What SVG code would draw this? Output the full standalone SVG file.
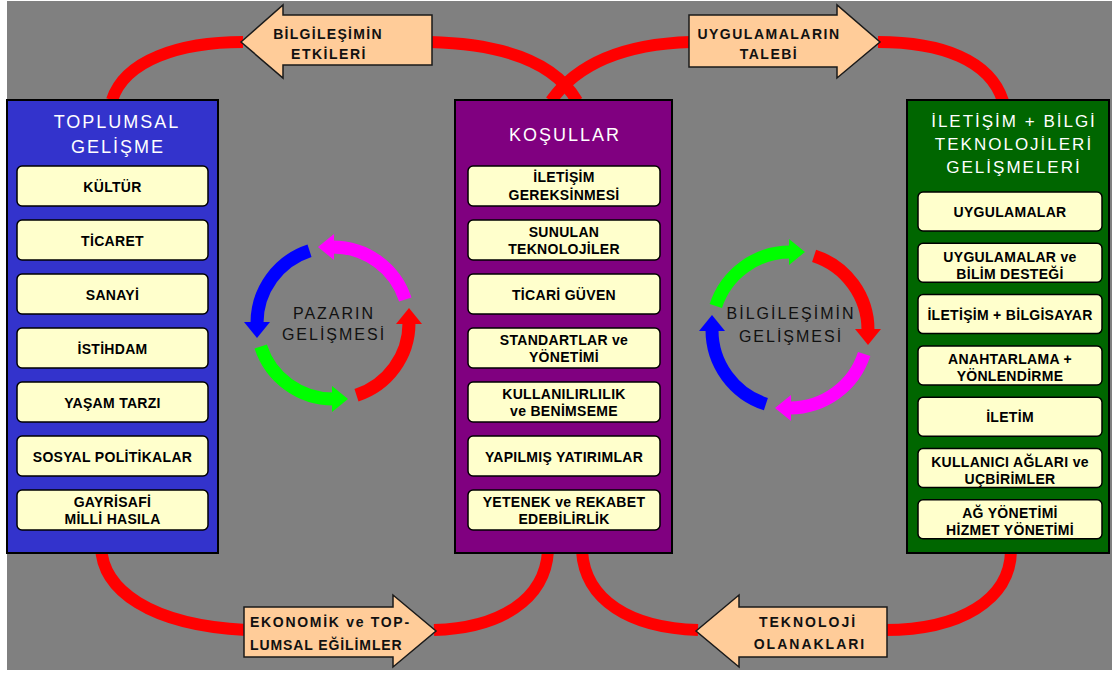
<svg xmlns="http://www.w3.org/2000/svg" width="1112" height="673" viewBox="0 0 1112 673">
<style>
.panel{stroke:#000;stroke-width:2}
.box{fill:#FFFFCC;stroke:#000;stroke-width:1.5}
.bt{font-family:"Liberation Sans",Arial,sans-serif;font-weight:bold;font-size:14px;letter-spacing:0.3px;text-anchor:middle;fill:#000}
.tt{font-family:"Liberation Sans",Arial,sans-serif;font-size:18px;letter-spacing:2px;text-anchor:middle;fill:#fff}
.arrow{fill:#FFCC99;stroke:#1a1a1a;stroke-width:1.5}
.at{font-family:"Liberation Sans",Arial,sans-serif;font-weight:bold;font-size:14px;fill:#111}
.ct{font-family:"Liberation Sans",Arial,sans-serif;font-size:16px;letter-spacing:2px;text-anchor:middle;fill:#111}
.conn{fill:none;stroke:#FF0000;stroke-width:12}
.ring{fill:none;stroke-width:13}
</style>
<defs>
<marker id="mr" markerUnits="userSpaceOnUse" markerWidth="16" markerHeight="26" viewBox="0 0 16 26" refX="1" refY="13" orient="auto"><path d="M0,0 L16,13 L0,26 Z" fill="#FF0000"/></marker>
<marker id="mg" markerUnits="userSpaceOnUse" markerWidth="16" markerHeight="26" viewBox="0 0 16 26" refX="1" refY="13" orient="auto"><path d="M0,0 L16,13 L0,26 Z" fill="#00FF00"/></marker>
<marker id="mb" markerUnits="userSpaceOnUse" markerWidth="16" markerHeight="26" viewBox="0 0 16 26" refX="1" refY="13" orient="auto"><path d="M0,0 L16,13 L0,26 Z" fill="#0000FF"/></marker>
<marker id="mm" markerUnits="userSpaceOnUse" markerWidth="16" markerHeight="26" viewBox="0 0 16 26" refX="1" refY="13" orient="auto"><path d="M0,0 L16,13 L0,26 Z" fill="#FF00FF"/></marker>
</defs>
<rect x="0" y="0" width="1112" height="673" fill="#fff"/>
<rect x="7" y="1" width="1105" height="669" fill="#808080"/>

<g id="connectors">
<path class="conn" d="M112,100 C125,60 180,42 243,42"/>
<path class="conn" d="M430,42 Q545,45 577,101"/>
<path class="conn" d="M691,42 Q590,45 551,101"/>
<path class="conn" d="M878,42 C941,42 990,60 1003,101"/>
<path class="conn" d="M101,546 C102,590 150,625 246,630"/>
<path class="conn" d="M434,630 C500,628 545,600 548,551"/>
<path class="conn" d="M582,551 C585,600 630,628 698,630"/>
<path class="conn" d="M885,630 C960,630 1010,600 1011,551"/>
</g>

<g id="toplumsal">
<rect class="panel" x="7" y="100" width="211" height="453" fill="#3333CC"/>
<text class="tt" x="117" y="128">TOPLUMSAL</text>
<text class="tt" x="118" y="153">GELİŞME</text>
<rect class="box" x="17" y="166" width="191" height="40" rx="5"/><text class="bt" x="112.5" y="191.5">KÜLTÜR</text>
<rect class="box" x="17" y="220" width="191" height="40" rx="5"/><text class="bt" x="112.5" y="245.5">TİCARET</text>
<rect class="box" x="17" y="274" width="191" height="40" rx="5"/><text class="bt" x="112.5" y="299.5">SANAYİ</text>
<rect class="box" x="17" y="328" width="191" height="40" rx="5"/><text class="bt" x="112.5" y="353.5">İSTİHDAM</text>
<rect class="box" x="17" y="382" width="191" height="40" rx="5"/><text class="bt" x="112.5" y="407.5">YAŞAM TARZI</text>
<rect class="box" x="17" y="436" width="191" height="40" rx="5"/><text class="bt" x="112.5" y="461.5">SOSYAL POLİTİKALAR</text>
<rect class="box" x="17" y="490" width="191" height="40" rx="5"/><text class="bt" x="112.5" y="506.5">GAYRİSAFİ</text><text class="bt" x="112.5" y="524">MİLLİ HASILA</text>
</g>

<g id="kosullar">
<rect class="panel" x="455" y="100" width="217" height="453" fill="#800080"/>
<text class="tt" x="565" y="141">KOŞULLAR</text>
<rect class="box" x="468" y="166" width="192" height="40" rx="5"/><text class="bt" x="564" y="182">İLETİŞİM</text><text class="bt" x="564" y="199.5">GEREKSİNMESİ</text>
<rect class="box" x="468" y="220" width="192" height="40" rx="5"/><text class="bt" x="564" y="236.5">SUNULAN</text><text class="bt" x="564" y="254">TEKNOLOJİLER</text>
<rect class="box" x="468" y="274" width="192" height="40" rx="5"/><text class="bt" x="564" y="299.5">TİCARİ GÜVEN</text>
<rect class="box" x="468" y="328" width="192" height="40" rx="5"/><text class="bt" x="564" y="344.5">STANDARTLAR ve</text><text class="bt" x="564" y="362">YÖNETİMİ</text>
<rect class="box" x="468" y="382" width="192" height="40" rx="5"/><text class="bt" x="564" y="398.5">KULLANILIRLILIK</text><text class="bt" x="564" y="416">ve BENİMSEME</text>
<rect class="box" x="468" y="436" width="192" height="40" rx="5"/><text class="bt" x="564" y="461.5">YAPILMIŞ YATIRIMLAR</text>
<rect class="box" x="468" y="490" width="192" height="40" rx="5"/><text class="bt" x="564" y="506.5">YETENEK ve REKABET</text><text class="bt" x="564" y="524">EDEBİLİRLİK</text>
</g>

<g id="iletisim">
<rect class="panel" x="907" y="100" width="202" height="453" fill="#006600"/>
<text class="tt" x="1014" y="127" style="font-size:17px">İLETİŞİM + BİLGİ</text>
<text class="tt" x="1014" y="149.5" style="font-size:17px">TEKNOLOJİLERİ</text>
<text class="tt" x="1014" y="172.5" style="font-size:17px">GELİŞMELERİ</text>
<rect class="box" x="918" y="192" width="184" height="39" rx="5"/><text class="bt" x="1010" y="216.5">UYGULAMALAR</text>
<rect class="box" x="918" y="243.3" width="184" height="39" rx="5"/><text class="bt" x="1010" y="261.5">UYGULAMALAR ve</text><text class="bt" x="1010" y="278.5">BİLİM DESTEĞİ</text>
<rect class="box" x="918" y="294.6" width="184" height="39" rx="5"/><text class="bt" x="1010" y="319.5">İLETİŞİM + BİLGİSAYAR</text>
<rect class="box" x="918" y="345.9" width="184" height="39" rx="5"/><text class="bt" x="1010" y="363.5">ANAHTARLAMA +</text><text class="bt" x="1010" y="381">YÖNLENDİRME</text>
<rect class="box" x="918" y="397.2" width="184" height="39" rx="5"/><text class="bt" x="1010" y="421.5">İLETİM</text>
<rect class="box" x="918" y="448.5" width="184" height="39" rx="5"/><text class="bt" x="1010" y="466.5">KULLANICI AĞLARI ve</text><text class="bt" x="1010" y="483.5">UÇBİRİMLER</text>
<rect class="box" x="918" y="499.8" width="184" height="39" rx="5"/><text class="bt" x="1010" y="517.5">AĞ YÖNETİMİ</text><text class="bt" x="1010" y="535">HİZMET YÖNETİMİ</text>
</g>

<g id="bilgilesimin-etkileri">
<polygon class="arrow" points="241,42 283,5 283,15 432,15 432,65 283,65 283,78"/>
<text class="at" x="328" y="39" text-anchor="middle" letter-spacing="1.3">BİLGİLEŞİMİN</text>
<text class="at" x="329" y="59" text-anchor="middle" letter-spacing="1.5">ETKİLERİ</text>
</g>

<g id="uygulamalarin-talebi">
<polygon class="arrow" points="689,15 837,15 837,5 880,42 837,78 837,67 689,67"/>
<text class="at" x="769" y="39" text-anchor="middle" letter-spacing="1.5">UYGULAMALARIN</text>
<text class="at" x="769" y="59" text-anchor="middle" letter-spacing="1.5">TALEBİ</text>
</g>

<g id="ekonomik-egilimler">
<polygon class="arrow" points="244,607 393,607 393,595 436,631 393,667 393,657 244,657"/>
<text class="at" x="250" y="627" letter-spacing="1.7">EKONOMİK ve TOP-</text>
<text class="at" x="250" y="650" letter-spacing="0.9">LUMSAL EĞİLİMLER</text>
</g>

<g id="teknoloji-olanaklari">
<polygon class="arrow" points="696,631 739,595 739,607 887,607 887,657 739,657 739,667"/>
<text class="at" x="808" y="627" text-anchor="middle" letter-spacing="2">TEKNOLOJİ</text>
<text class="at" x="810" y="649" text-anchor="middle" letter-spacing="2">OLANAKLARI</text>
</g>

<g id="pazarin-gelismesi">
<path class="ring" stroke="#FF00FF" marker-end="url(#mm)" d="M405.28,299.52 A76,76 0 0 0 333,247"/>
<path class="ring" stroke="#0000FF" marker-end="url(#mb)" d="M309.52,250.72 A76,76 0 0 0 257,323"/>
<path class="ring" stroke="#00FF00" marker-end="url(#mg)" d="M260.72,346.48 A76,76 0 0 0 333,399"/>
<path class="ring" stroke="#FF0000" marker-end="url(#mr)" d="M356.48,395.28 A76,76 0 0 0 409,323"/>
<text class="ct" x="334" y="319">PAZARIN</text>
<text class="ct" x="334" y="340" letter-spacing="1.6">GELİŞMESİ</text>
</g>

<g id="bilgilesimin-gelismesi">
<path class="ring" stroke="#00FF00" marker-end="url(#mg)" d="M715.82,305.9 A78,78 0 0 1 790,252"/>
<path class="ring" stroke="#FF0000" marker-end="url(#mr)" d="M814.1,255.82 A78,78 0 0 1 868,330"/>
<path class="ring" stroke="#FF00FF" marker-end="url(#mm)" d="M864.18,354.1 A78,78 0 0 1 790,408"/>
<path class="ring" stroke="#0000FF" marker-end="url(#mb)" d="M765.9,404.18 A78,78 0 0 1 712,330"/>
<text class="ct" x="791" y="319" letter-spacing="1.5">BİLGİLEŞİMİN</text>
<text class="ct" x="791" y="342">GELİŞMESİ</text>
</g>
</svg>
